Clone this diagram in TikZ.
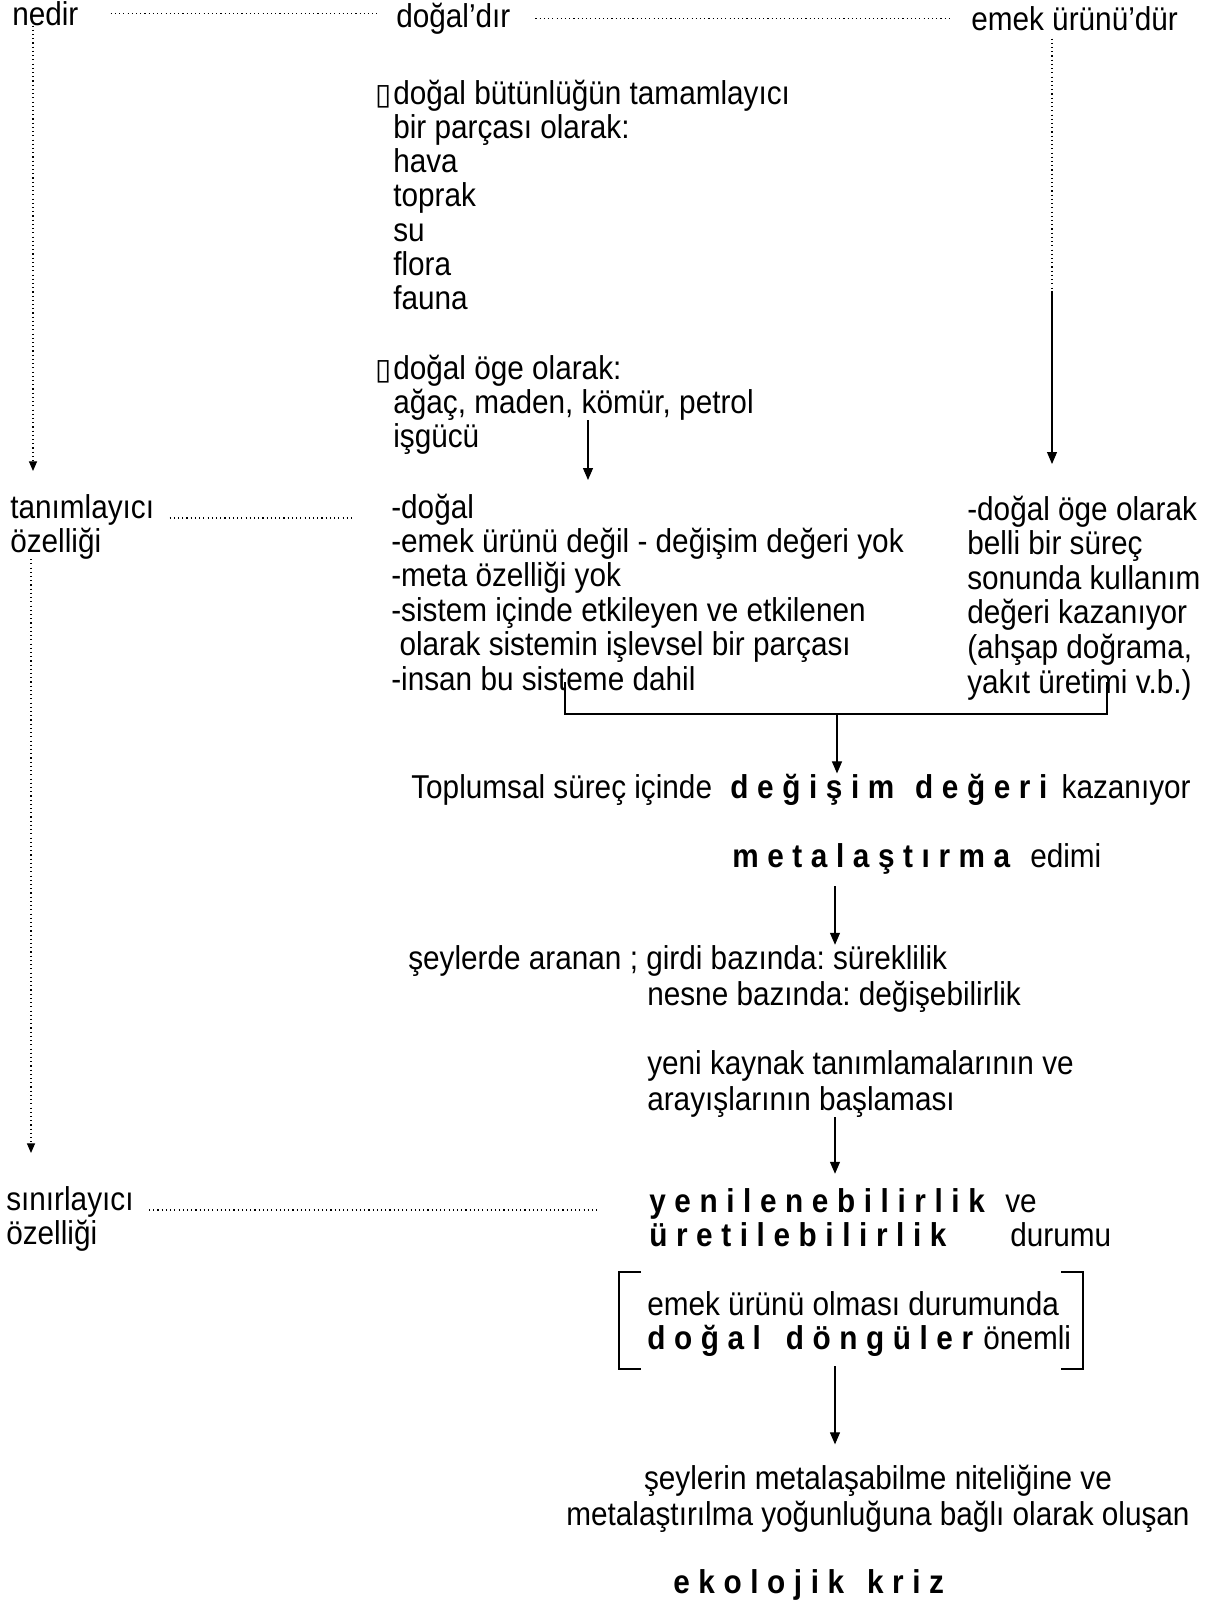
\documentclass[tikz,border=0pt]{standalone}
\usepackage{fontspec}
\setmainfont{Liberation Sans}[FakeStretch=0.9]
\newfontfamily\dejavu{DejaVu Sans}
\usetikzlibrary{arrows.meta}
\frenchspacing
\newcommand\kutu{\llap{{\dejavu\fontsize{21}{21}\selectfont ▯}\kern1pt}}
\newcommand\seyrek[1]{{\bfseries\addfontfeature{LetterSpace=26}#1}}
\tikzset{
  txt/.style={inner sep=0pt, anchor=base west, font=\fontsize{23.5}{24}\selectfont},
  dots/.style={line width=0.8pt, dash pattern=on 0.8pt off 2.2pt},
  arr/.style={line width=0.8pt, -{Triangle[length=3mm,width=2.5mm]}},
  dotarr/.style={dots, -{Triangle[length=2.4mm,width=2mm]}},
  brk/.style={line width=1.6pt}
}
\begin{document}
\begin{tikzpicture}[x=0.025cm, y=-0.025cm, every node/.style=txt]
\useasboundingbox (0,0) rectangle (1212,1600);
\node (nedir) at (12,25) {nedir};
\node (dogal) at (396,27) {doğal’dır};
\node (emek) at (971,30) {emek ürünü’dür};

\foreach \t [count=\i from 0] in {{\kutu doğal bütünlüğün tamamlayıcı}, bir parçası olarak:, hava, toprak, su, flora, fauna}
  \node (nat\i) at (393,104+34.3*\i) {\t};
\foreach \t [count=\i from 0] in {{\kutu doğal öge olarak:}, {ağaç, maden, kömür, petrol}, işgücü}
  \node (oge\i) at (393,379+34*\i) {\t};
\foreach \t [count=\i from 0] in {-doğal, -emek ürünü değil - değişim değeri yok, -meta özelliği yok, -sistem içinde etkileyen ve etkilenen, {\ olarak sistemin işlevsel bir parçası}, -insan bu sisteme dahil}
  \node (ozl\i) at (391,518+34.4*\i) {\t};
\foreach \t [count=\i from 0] in {-doğal öge olarak, belli bir süreç, sonunda kullanım, değeri kazanıyor, {(ahşap doğrama,}, {yakıt üretimi v.b.)}}
  \node (kul\i) at (967,520+34.6*\i) {\t};

\node (tanim) at (10,518) {tanımlayıcı};
\node (ozel1) at (10,552) {özelliği};
\node (sinir) at (6,1210) {sınırlayıcı};
\node (ozel2) at (6,1244) {özelliği};

\node (toplum) at (411,798) {Toplumsal süreç içinde \hspace{0.25cm}\seyrek{değişim\hspace{0.1cm} değeri} \hspace{0.15cm}kazanıyor};
\node (metal) at (732,867) {\seyrek{metalaştırma}};
\node (edimi) at (1030,867) {edimi};
\node (seyler) at (408,969) {şeylerde aranan ; girdi bazında: süreklilik};
\node (nesne) at (647,1005) {nesne bazında: değişebilirlik};
\node (yeni) at (647,1074) {yeni kaynak tanımlamalarının ve};
\node (arayis) at (647,1110) {arayışlarının başlaması};
\node (yenilen) at (649,1212) {\seyrek{yenilenebilirlik}};
\node (ve) at (1005,1212) {ve};
\node (uretil) at (649,1246) {\seyrek{üretilebilirlik}};
\node (durumu) at (1010,1246) {durumu};
\node (olmasi) at (647,1315) {emek ürünü olması durumunda};
\node (dongu) at (647,1349) {\seyrek{doğal\hspace{0.2cm} döngüler} \hspace{0.05cm}önemli};
\node[anchor=base] (nitelik) at (878,1489) {şeylerin metalaşabilme niteliğine ve};
\node[anchor=base] (yogun) at (878,1525) {metalaştırılma yoğunluğuna bağlı olarak oluşan};
\node (kriz) at (673,1593) {\seyrek{ekolojik\hspace{0.15cm} kriz}};

\draw[dots, shorten <=0.8cm, shorten >=0.48cm] (nedir.east) -- (nedir.east -| dogal.west);
\draw[dots, shorten <=0.62cm, shorten >=0.55cm] (dogal.east) -- (dogal.east -| emek.west);
\draw[dots, shorten <=0.38cm, shorten >=0.93cm] (tanim.base east) -- (tanim.base east -| ozl0.base west);
\draw[dots, shorten <=0.38cm, shorten >=1.3cm] (sinir.base east) -- (sinir.base east -| yenilen.base west);

\coordinate (u1) at (33,471);
\coordinate (u2) at (31,1153);
\draw[dotarr] (nedir.south -| u1) -- (u1);
\draw[dotarr] (ozel1.south -| u2) -- (u2);
\coordinate (r1) at (1052,291);
\coordinate (r2) at (1052,464);
\draw[dots, shorten <=0.2cm] (emek.south -| r1) -- (r1);
\draw[arr] (r1) -- (r2);
\coordinate (k1) at (588,480);
\draw[arr] (oge1.south -| k1) -- (k1);

\draw[brk] (565,682) -- (565,714) -- (1107,714) -- (1107,682);
\coordinate (b1) at (837,714);
\draw[arr] (b1) -- (toplum.north -| b1);
\coordinate (ax) at (835,0);
\draw[arr, shorten <=0.3cm] (metal.south -| ax) -- (seyler.north -| ax);
\draw[arr, shorten >=0.35cm] (arayis.south -| ax) -- (yenilen.north -| ax);
\draw[arr, shorten <=0.25cm, shorten >=0.5cm] (dongu.south -| ax) -- (nitelik.north -| ax);

\draw[brk] (641,1272) -- (619,1272) -- (619,1369) -- (641,1369);
\draw[brk] (1061,1272) -- (1083,1272) -- (1083,1369) -- (1061,1369);
\end{tikzpicture}
\end{document}
